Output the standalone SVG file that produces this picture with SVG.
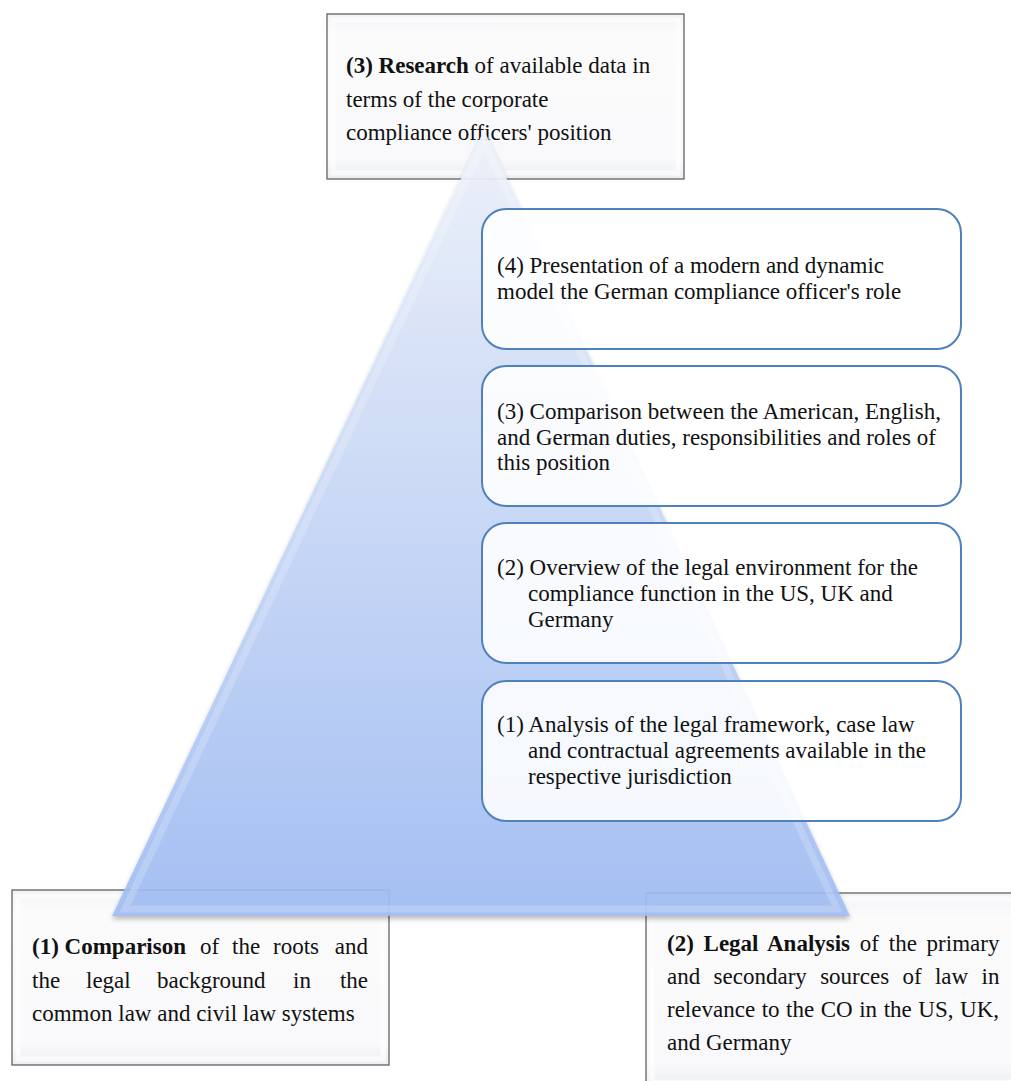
<svg xmlns="http://www.w3.org/2000/svg" width="1011" height="1081" viewBox="0 0 1011 1081">
<defs>
<linearGradient id="triG" x1="0" y1="0" x2="0" y2="1">
<stop offset="0" stop-color="#f0f4fc"/>
<stop offset="0.3" stop-color="#d6e2f9"/>
<stop offset="1" stop-color="#a0bdf4"/>
</linearGradient>
<linearGradient id="boxG" x1="0" y1="0" x2="0" y2="1">
<stop offset="0" stop-color="#f2f3f5"/>
<stop offset="0.12" stop-color="#fbfbfc"/>
<stop offset="0.88" stop-color="#f9f9fb"/>
<stop offset="1" stop-color="#eceef1"/>
</linearGradient>
<filter id="sh" x="-10%" y="-10%" width="120%" height="130%">
<feGaussianBlur in="SourceAlpha" stdDeviation="2.5"/>
<feOffset dx="0" dy="3" result="b"/>
<feComponentTransfer><feFuncA type="linear" slope="0.3"/></feComponentTransfer>
<feMerge><feMergeNode/><feMergeNode in="SourceGraphic"/></feMerge>
</filter>
</defs>
<style>
.t{font-family:"Liberation Serif","DejaVu Serif",serif;font-size:23px;fill:#111}
.b{font-weight:bold}
.sq{fill:url(#boxG);stroke:#555;stroke-width:1.2}
.bev{fill:none;stroke:#ffffff;stroke-width:5;opacity:0.6}
.rr{fill:#ffffff;fill-opacity:0.88;stroke:#4f81bd;stroke-width:2}
</style>

<g id="node-research">
<rect class="sq" x="327" y="14" width="357" height="165"/>
<rect class="bev" x="333" y="20" width="345" height="153"/>
<text class="t" x="346" y="73"><tspan class="b">(3) Research</tspan> of available data in</text>
<text class="t" x="346" y="107">terms of the corporate</text>
<text class="t" x="346" y="140">compliance officers' position</text>
</g>

<g id="node-comparison">
<rect class="sq" x="12" y="890" width="377" height="175"/>
<rect class="bev" x="18" y="896" width="365" height="163"/>
<text class="t" y="954"><tspan class="b" x="32">(1) Comparison</tspan><tspan x="200">of</tspan><tspan x="232">the</tspan><tspan x="273">roots</tspan></text>
<text class="t" x="368" y="954" text-anchor="end">and</text>
<text class="t" y="988"><tspan x="32">the</tspan><tspan x="86">legal</tspan><tspan x="157">background</tspan><tspan x="293">in</tspan></text>
<text class="t" x="368" y="988" text-anchor="end">the</text>
<text class="t" x="32" y="1021">common law and civil law systems</text>
</g>

<g id="node-legal-analysis">
<rect class="sq" x="646" y="893" width="372" height="195"/>
<rect class="bev" x="652" y="899" width="366" height="183"/>
<text class="t" x="667" y="951" word-spacing="4"><tspan class="b">(2) Legal Analysis</tspan> of the primary</text>
<text class="t" x="667" y="984" word-spacing="7.6">and secondary sources of law in</text>
<text class="t" x="667" y="1017" word-spacing="0.8">relevance to the CO in the US, UK,</text>
<text class="t" x="667" y="1050">and Germany</text>
</g>

<g id="pyramid">
<polygon points="484,130 850,916 112,916" fill="url(#triG)" fill-opacity="0.9" filter="url(#sh)"/>
<polygon points="484,144 837,909 125,909" fill="none" stroke="#ffffff" stroke-opacity="0.2" stroke-width="7"/>
</g>

<g id="node-step4">
<rect class="rr" x="482" y="209" width="479" height="140" rx="24"/>
<text class="t" x="497" y="273">(4) Presentation of a modern and dynamic</text>
<text class="t" x="497" y="299">model the German compliance officer's role</text>
</g>

<g id="node-step3">
<rect class="rr" x="482" y="366" width="479" height="140" rx="24"/>
<text class="t" x="497" y="419">(3) Comparison between the American, English,</text>
<text class="t" x="497" y="445">and German duties, responsibilities and roles of</text>
<text class="t" x="497" y="470">this position</text>
</g>

<g id="node-step2">
<rect class="rr" x="482" y="523" width="479" height="140" rx="24"/>
<text class="t" x="497" y="575">(2) Overview of the legal environment for the</text>
<text class="t" x="528" y="601">compliance function in the US, UK and</text>
<text class="t" x="528" y="627">Germany</text>
</g>

<g id="node-step1">
<rect class="rr" x="482" y="681" width="479" height="140" rx="24"/>
<text class="t" x="497" y="732">(1) Analysis of the legal framework, case law</text>
<text class="t" x="528" y="758">and contractual agreements available in the</text>
<text class="t" x="528" y="784">respective jurisdiction</text>
</g>

<g id="connectors"></g>
</svg>
